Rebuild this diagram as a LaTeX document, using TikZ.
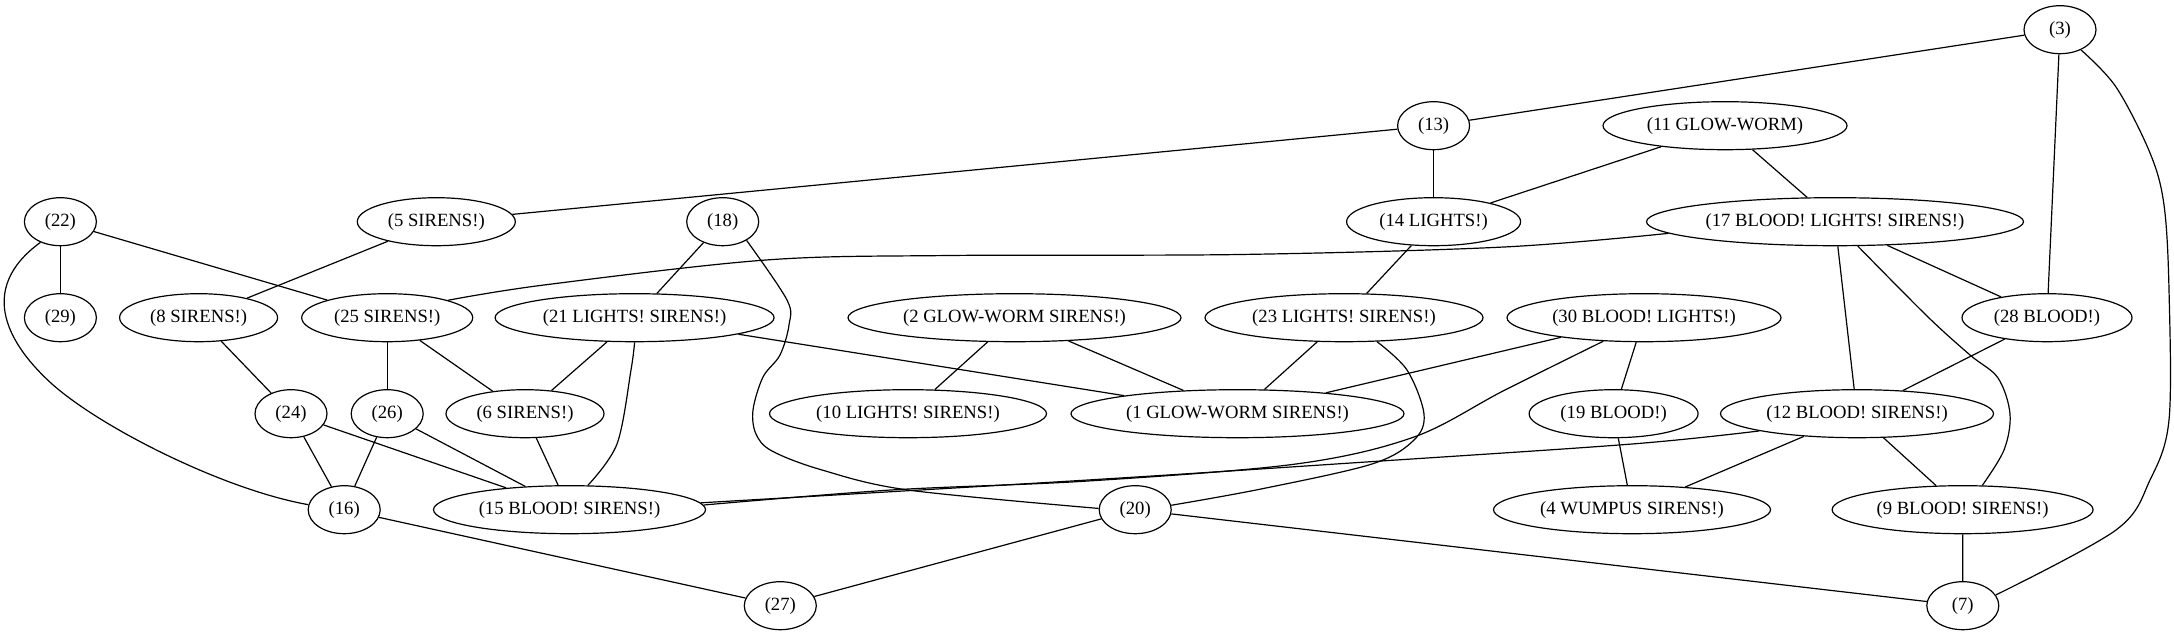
\documentclass[tikz,border=0pt]{standalone}
\usepackage{fontspec}
\setmainfont{Liberation Serif}
\usetikzlibrary{shapes.geometric}
\begin{document}
\begin{tikzpicture}[x=0.75pt,y=-0.75pt,
  gn/.style={draw, ellipse, inner sep=0pt, minimum height=36pt, minimum width=54pt,
    font=\fontsize{14}{16}\selectfont, line width=0.9pt},
  nw/.style={minimum width=#1*0.75pt},
  edge/.style={line width=0.9pt},
  curv/.style={line width=0.9pt, smooth, tension=0.55}]
\useasboundingbox (0,0) rectangle (2174,635);
% nodes
\node[gn] (n3) at (2060,29.7) {(3)};
\node[gn] (n13) at (1433.6,125.7) {(13)};
\node[gn,nw=244] (n11) at (1725,125.7) {(11 GLOW-WORM)};
\node[gn] (n22) at (60.4,221.7) {(22)};
\node[gn,nw=158] (n5) at (436.3,221.7) {(5 SIRENS!)};
\node[gn] (n18) at (722.7,221.7) {(18)};
\node[gn,nw=174] (n14) at (1433.6,221.7) {(14 LIGHTS!)};
\node[gn,nw=377] (n17) at (1835,221.7) {(17 BLOOD! LIGHTS! SIRENS!)};
\node[gn] (n29) at (60.4,317.7) {(29)};
\node[gn,nw=158] (n8) at (198.6,317.7) {(8 SIRENS!)};
\node[gn,nw=171] (n25) at (387.2,317.7) {(25 SIRENS!)};
\node[gn,nw=279] (n21) at (634.6,317.7) {(21 LIGHTS! SIRENS!)};
\node[gn,nw=333] (n2) at (1014.5,317.7) {(2 GLOW-WORM SIRENS!)};
\node[gn,nw=278] (n23) at (1344,317.7) {(23 LIGHTS! SIRENS!)};
\node[gn,nw=274] (n30) at (1644,317.7) {(30 BLOOD! LIGHTS!)};
\node[gn,nw=170] (n28) at (2047,317.7) {(28 BLOOD!)};
\node[gn] (n24) at (291,413.7) {(24)};
\node[gn] (n26) at (387.2,413.7) {(26)};
\node[gn,nw=158] (n6) at (525,413.7) {(6 SIRENS!)};
\node[gn,nw=277] (n10) at (908,413.7) {(10 LIGHTS! SIRENS!)};
\node[gn,nw=333] (n1) at (1237.5,413.7) {(1 GLOW-WORM SIRENS!)};
\node[gn,nw=169] (n19) at (1613.6,413.7) {(19 BLOOD!)};
\node[gn,nw=273] (n12) at (1857,413.7) {(12 BLOOD! SIRENS!)};
\node[gn] (n16) at (344.2,509.7) {(16)};
\node[gn,nw=272] (n15) at (569.5,509.7) {(15 BLOOD! SIRENS!)};
\node[gn] (n20) at (1135.2,509.7) {(20)};
\node[gn,nw=277] (n4) at (1632,509.7) {(4 WUMPUS SIRENS!)};
\node[gn,nw=261] (n9) at (1962.6,509.7) {(9 BLOOD! SIRENS!)};
\node[gn] (n27) at (780.3,605.7) {(27)};
\node[gn] (n7) at (1962.8,605.7) {(7)};
% straight edges
\draw[edge] (n3)--(n13);
\draw[edge] (n3)--(n28);
\draw[edge] (n13)--(n5);
\draw[edge] (n13)--(n14);
\draw[edge] (n11)--(n14);
\draw[edge] (n11)--(n17);
\draw[edge] (n22)--(n29);
\draw[edge] (n22)--(n25);
\draw[edge] (n5)--(n8);
\draw[edge] (n18)--(n21);
\draw[edge] (n14)--(n23);
\draw[edge] (n17)--(n28);
\draw[edge] (n17)--(n12);
\draw[edge] (n8)--(n24);
\draw[edge] (n25)--(n26);
\draw[edge] (n25)--(n6);
\draw[edge] (n21)--(n6);
\draw[edge] (n21)--(n1);
\draw[edge] (n2)--(n10);
\draw[edge] (n2)--(n1);
\draw[edge] (n23)--(n1);
\draw[edge] (n30)--(n1);
\draw[edge] (n30)--(n19);
\draw[edge] (n28)--(n12);
\draw[edge] (n24)--(n16);
\draw[edge] (n24)--(n15);
\draw[edge] (n26)--(n16);
\draw[edge] (n26)--(n15);
\draw[edge] (n6)--(n15);
\draw[edge] (n19)--(n4);
\draw[edge] (n12)--(n4);
\draw[edge] (n12)--(n9);
\draw[edge] (n16)--(n27);
\draw[edge] (n20)--(n27);
\draw[edge] (n20)--(n7);
\draw[edge] (n9)--(n7);
% curved edges
\draw[curv] plot coordinates {(n3.-44) (2116,87) (2150,153) (2164,205) (2169,290) (2169,420) (2150,480) (2116,530) (n7.18)};
\draw[curv] plot coordinates {(n17.-176) (1504,247) (1240,254.5) (950,255.5) (766,260) (544,285) (n25.16)};
\draw[curv] plot coordinates {(n17.-47) (1928,317) (1970,355) (1998,378) (2010,414) (2004,450) (n9.51)};
\draw[curv] plot coordinates {(n18.-38) (787,300) (789,325) (780,355) (763,377) (753,410) (756,434) (772,451) (822,470) (908,490) (n20.178)};
\draw[curv] plot coordinates {(n21.-90) (631,370) (617,444) (n15.53)};
\draw[curv] plot coordinates {(n23.-36) (1407,370) (1424,414) (1414,440) (1372,464) (1261,489) (n20.7)};
\draw[curv] plot coordinates {(n30.-150) (1504,390.5) (1414,437) (1296,464) (1088,481) (891,490) (n15.2)};
\draw[curv] plot coordinates {(n12.-170) (1632,444) (1366,462) (1088,480) (n15.3)};
\draw[edge] (n22.-134) .. controls (-25,290) and (10,346) .. (52,384)
  .. controls (102,428.5) and (225,490) .. (n16.172);
\end{tikzpicture}
\end{document}
